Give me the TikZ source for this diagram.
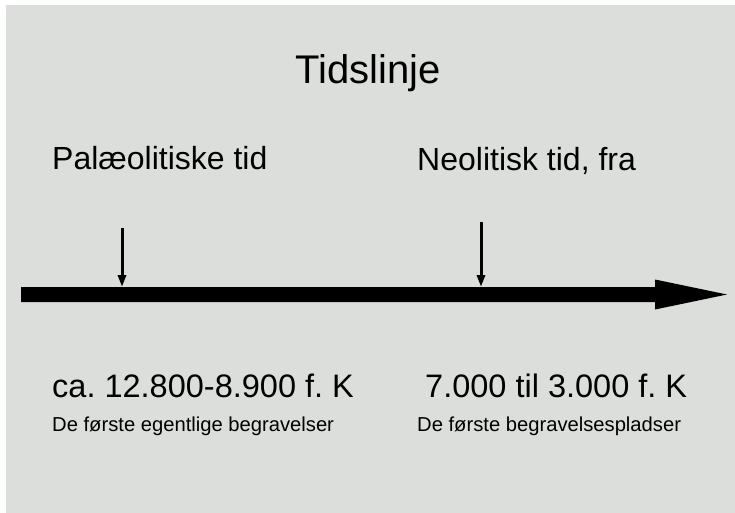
\documentclass[tikz,border=0pt]{standalone}
\usepackage{fontspec}
\setmainfont{Liberation Sans}
\usetikzlibrary{arrows.meta}
\definecolor{bggray}{RGB}{220,222,220}
\tikzset{
  lbl/.style={anchor=base west,inner sep=0pt},
  pin/.style={line width=3pt,-{Triangle[length=12pt,width=8pt]}}
}
\frenchspacing
\begin{document}
\begin{tikzpicture}[x=1pt,y=-1pt]
\fill[white] (0,0) rectangle (735,513);
\fill[bggray] (6,5) rectangle (735,513);
\useasboundingbox (0,0) rectangle (735,513);
\node[anchor=base,inner sep=0pt,font=\fontsize{40}{46}\selectfont] (title) at (368,84) {Tidslinje};
\node[lbl,font=\fontsize{32}{38}\selectfont] (palaeo) at (52,169) {Palæolitiske tid};
\node[lbl,font=\fontsize{32}{38}\selectfont] (neo) at (417,170) {Neolitisk tid, fra};
% tidslinjen
\coordinate (start) at (21,294.5);
\coordinate (end) at (727,294.5);
\fill (start) ++(0,-7.5) -- (655,287) -- (655,279.5) -- (end)
  -- (655,309.5) -- (655,302) -- (21,302) -- cycle;
\coordinate (palaeotop) at (122,228);
\coordinate (palaeobar) at (122,287);
\coordinate (neotop) at (481,222);
\coordinate (neobar) at (481,287);
\draw[pin] (palaeotop) -- (palaeobar);
\draw[pin] (neotop) -- (neobar);
\node[lbl,font=\fontsize{32.5}{38}\selectfont] (palaeodate) at (52,397) {ca. 12.800-8.900 f. K};
\node[lbl,font=\fontsize{32.5}{38}\selectfont] (neodate) at (425,397) {7.000 til 3.000 f. K};
\node[lbl,font=\fontsize{20.2}{24}\selectfont] (palaeotxt) at (52,431) {De første egentlige begravelser};
\node[lbl,font=\fontsize{20.2}{24}\selectfont] (neotxt) at (417,431) {De første begravelsespladser};
\end{tikzpicture}
\end{document}
